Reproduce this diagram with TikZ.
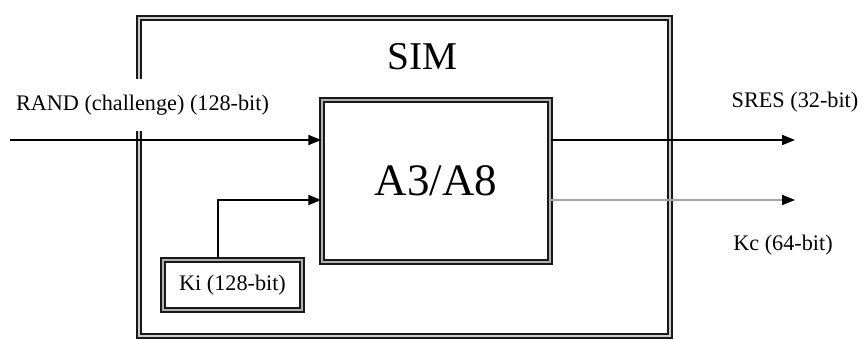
\documentclass[tikz,border=0pt]{standalone}
\usepackage{fontspec}
\setmainfont{Liberation Serif}
\usetikzlibrary{arrows.meta, positioning, calc}

\begin{document}
\begin{tikzpicture}[
x=0.025cm, y=-0.025cm,
frame/.style={draw=black!90, line width=1.1pt, double=gray!40, double distance=1.5pt},
box/.style={draw=black!90, line width=1pt, double=gray!60, double distance=2pt, align=center, inner sep=0pt},
lbl/.style={font=\fontsize{15.8}{18}\selectfont, inner sep=1pt},
arrow/.style={-{Triangle[length=3.2mm, width=2.5mm]}, line width=0.9pt}
]
\useasboundingbox (0,0) rectangle (864,340);

\node[frame, minimum width=13.275cm, minimum height=7.95cm] (sim) at (404.5,177) {};
\node[font=\fontsize{28}{30}\selectfont] (simlabel) at (423,57) {SIM};

\node[box, minimum width=5.7cm, minimum height=4.05cm, font=\fontsize{32}{34}\selectfont] (a3a8) at (436,181) {A3/A8};
\node[box, lbl, minimum width=3.475cm, minimum height=1.25cm] (ki) at (232.5,285) {Ki (128-bit)};

\node[lbl, fill=white, minimum height=1.3cm] (rand) at (142.5,105) {RAND (challenge) (128-bit)};
\node[lbl] (sres) at (795,102) {SRES (32-bit)};
\node[lbl] (kc) at (783,245) {Kc (64-bit)};

\coordinate (randin) at (10,140);
\coordinate (kiin) at (218,200);
\coordinate (sresout) at (795,140);
\coordinate (kcout) at (795,200);

\draw[arrow] (randin) -- (randin -| a3a8.west);
\draw[arrow] (ki.north -| kiin) -- (kiin) -- (kiin -| a3a8.west);
\draw[arrow] (a3a8.east |- sresout) -- (sresout);
\draw[arrow, draw=gray!70, -{Triangle[length=3.2mm, width=2.5mm, color=black]}] (a3a8.east |- kcout) -- (kcout);

\end{tikzpicture}
\end{document}
